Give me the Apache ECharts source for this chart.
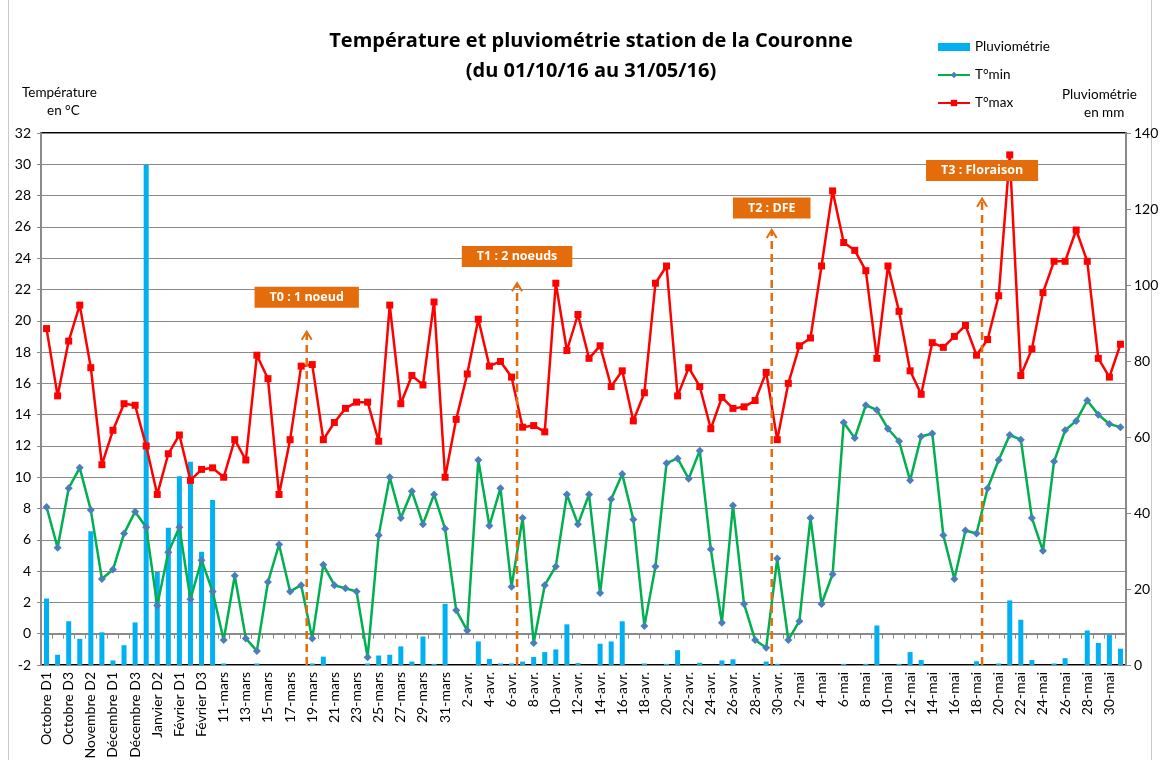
<!DOCTYPE html>
<html>
<head>
<meta charset="utf-8">
<script src="https://cdn.jsdelivr.net/npm/echarts@6/dist/echarts.min.js"></script>
<style>
html, body { margin: 0; padding: 0; background: #fff; }
#chart { width: 1163px; height: 760px; }
</style>
</head>
<body>
<div id="chart"></div>
<script>
// x categories: decades (Oct -> early March) then days
const categories = [
	'Octobre D1', 'Octobre D2', 'Octobre D3', 'Novembre D1', 'Novembre D2', 'Novembre D3',
	'Décembre D1', 'Décembre D2', 'Décembre D3', 'Janvier D1', 'Janvier D2', 'Janvier D3',
	'Février D1', 'Février D2', 'Février D3', 'Mars D1',
	'11-mars', '12-mars', '13-mars', '14-mars', '15-mars', '16-mars', '17-mars', '18-mars',
	'19-mars', '20-mars', '21-mars', '22-mars', '23-mars', '24-mars', '25-mars', '26-mars',
	'27-mars', '28-mars', '29-mars', '30-mars', '31-mars',
	'1-avr.', '2-avr.', '3-avr.', '4-avr.', '5-avr.', '6-avr.', '7-avr.', '8-avr.', '9-avr.',
	'10-avr.', '11-avr.', '12-avr.', '13-avr.', '14-avr.', '15-avr.', '16-avr.', '17-avr.',
	'18-avr.', '19-avr.', '20-avr.', '21-avr.', '22-avr.', '23-avr.', '24-avr.', '25-avr.',
	'26-avr.', '27-avr.', '28-avr.', '29-avr.', '30-avr.',
	'1-mai', '2-mai', '3-mai', '4-mai', '5-mai', '6-mai', '7-mai', '8-mai', '9-mai', '10-mai',
	'11-mai', '12-mai', '13-mai', '14-mai', '15-mai', '16-mai', '17-mai', '18-mai', '19-mai',
	'20-mai', '21-mai', '22-mai', '23-mai', '24-mai', '25-mai', '26-mai', '27-mai', '28-mai',
	'29-mai', '30-mai', '31-mai'
]

// Pluviométrie (mm, right axis)
const pluvio = [
	17.5, 2.7, 11.5, 6.9, 35.2, 8.6, 1.2, 5.2, 11.2, 131.6,
	24.5, 36.1, 49.7, 53.5, 29.8, 43.4, 0.4, 0, 0, 0.4,
	0, 0, 0, 0, 0.4, 2.2, 0, 0, 0, 0.4,
	2.5, 2.7, 4.9, 0.9, 7.5, 0.3, 16.1, 0, 0, 6.2,
	1.6, 0.4, 0.4, 0.9, 2.1, 3.4, 4.1, 10.7, 0.5, 0,
	5.6, 6.2, 11.5, 0, 0.4, 0, 0.3, 3.9, 0, 0.6,
	0, 1.2, 1.5, 0, 0, 0.9, 0.3, 0, 0, 0,
	0, 0, 0.3, 0, 0.3, 10.4, 0, 0.3, 3.4, 1.3,
	0, 0, 0, 0, 1.0, 0, 0.4, 17.0, 11.9, 1.3,
	0, 0.4, 1.8, 0, 9.1, 5.8, 8.0, 4.3
]

// T°min (°C)
const tMin = [
	8.1, 5.5, 9.3, 10.6, 7.9, 3.5, 4.1, 6.4, 7.8, 6.8,
	1.8, 5.2, 6.8, 2.2, 4.7, 2.7, -0.4, 3.7, -0.3, -1.1,
	3.3, 5.7, 2.7, 3.1, -0.3, 4.4, 3.1, 2.9, 2.7, -1.5,
	6.3, 10.0, 7.4, 9.1, 7.0, 8.9, 6.7, 1.5, 0.2, 11.1,
	6.9, 9.3, 3.0, 7.4, -0.6, 3.1, 4.3, 8.9, 7.0, 8.9,
	2.6, 8.6, 10.2, 7.3, 0.5, 4.3, 10.9, 11.2, 9.9, 11.7,
	5.4, 0.7, 8.2, 1.9, -0.4, -0.9, 4.8, -0.4, 0.8, 7.4,
	1.9, 3.8, 13.5, 12.5, 14.6, 14.3, 13.1, 12.3, 9.8, 12.6,
	12.8, 6.3, 3.5, 6.6, 6.4, 9.3, 11.1, 12.7, 12.4, 7.4,
	5.3, 11.0, 13.0, 13.6, 14.9, 14.0, 13.4, 13.2
]

// T°max (°C)
const tMax = [
	19.5, 15.2, 18.7, 21.0, 17.0, 10.8, 13.0, 14.7, 14.6, 12.0,
	8.9, 11.5, 12.7, 9.8, 10.5, 10.6, 10.0, 12.4, 11.1, 17.8,
	16.3, 8.9, 12.4, 17.1, 17.2, 12.4, 13.5, 14.4, 14.8, 14.8,
	12.3, 21.0, 14.7, 16.5, 15.9, 21.2, 10.0, 13.7, 16.6, 20.1,
	17.1, 17.4, 16.4, 13.2, 13.3, 12.9, 22.4, 18.1, 20.4, 17.6,
	18.4, 15.8, 16.8, 13.6, 15.4, 22.4, 23.5, 15.2, 17.0, 15.8,
	13.1, 15.1, 14.4, 14.5, 14.9, 16.7, 12.4, 16.0, 18.4, 18.9,
	23.5, 28.3, 25.0, 24.5, 23.2, 17.6, 23.5, 20.6, 16.8, 15.3,
	18.6, 18.3, 19.0, 19.7, 17.8, 18.8, 21.6, 30.6, 16.5, 18.2,
	21.8, 23.8, 23.8, 25.8, 23.8, 17.6, 16.4, 18.5
]

// stades : libellé, première date du stade (la flèche est au début de cette catégorie), hauteur de flèche / étiquette en °C
const stageLabels = ['T0 : 1 noeud', 'T1 : 2 noeuds', 'T2 : DFE', 'T3 : Floraison']
const stageDates = ['19-mars', '7-avr.', '30-avr.', '19-mai']
const stageArrowTop = [19.3, 22.4, 25.8, 27.8]
const stageBoxLevel = [21.5, 24.1, 27.2, 29.6]

const FONT = 'Lato, "Open Sans", sans-serif'
const TITLE_FONT = '"Open Sans", Lato, sans-serif'
const ORANGE = '#E46C0A'
const GRID_GREY = '#8a8a8a'

const chart = echarts.init(document.getElementById('chart'))

const option = {
	animation: false,
	backgroundColor: '#fff',
	textStyle: { fontFamily: FONT },
	title: {
		text: 'Température et pluviométrie station de la Couronne\n(du 01/10/16 au 31/05/16)',
		left: 586,
		top: 21,
		textAlign: 'center',
		textStyle: { fontFamily: TITLE_FONT, fontSize: 20, fontWeight: 'bold', color: '#000', lineHeight: 30 }
	},
	legend: {
		orient: 'vertical',
		left: 932,
		top: 35,
		itemWidth: 32,
		itemHeight: 8,
		itemGap: 14,
		textStyle: { fontFamily: FONT, fontSize: 13.5, color: '#000' },
		data: [
			{ name: 'Pluviométrie', icon: 'rect' },
			{ name: 'T°min' },
			{ name: 'T°max' }
		]
	},
	grid: {
		left: 41,
		right: 37,
		top: 133,
		bottom: 95,
		outerBoundsMode: 'none',
		show: true,
		borderColor: '#000',
		borderWidth: 2
	},
	xAxis: {
		type: 'category',
		data: categories,
		boundaryGap: true,
		axisLine: { lineStyle: { color: GRID_GREY, width: 2 } },
		axisTick: { show: true, interval: 0, length: 5, lineStyle: { color: GRID_GREY } },
		axisLabel: {
			interval: 1,
			rotate: 90,
			fontFamily: FONT,
			fontSize: 14,
			color: '#000',
			margin: 7
		}
	},
	yAxis: [
		{
			type: 'value',
			min: -2,
			max: 32,
			interval: 2,
			axisLine: { show: true, lineStyle: { color: GRID_GREY, width: 2 } },
			axisTick: { show: true, length: 4, lineStyle: { color: GRID_GREY } },
			axisLabel: { fontFamily: FONT, fontSize: 14, color: '#000', margin: 10 },
			splitLine: { lineStyle: { color: GRID_GREY, width: 1.2 } }
		},
		{
			type: 'value',
			min: 0,
			max: 140,
			interval: 20,
			position: 'right',
			axisLine: { show: true, lineStyle: { color: GRID_GREY, width: 2 } },
			axisTick: { show: true, length: 5, lineStyle: { color: GRID_GREY } },
			axisLabel: { fontFamily: FONT, fontSize: 14, color: '#000', margin: 8 },
			splitLine: { show: false }
		}
	],
	series: [
		{
			name: 'Pluviométrie',
			type: 'bar',
			yAxisIndex: 1,
			data: pluvio,
			barWidth: 5,
			itemStyle: { color: '#00B0F0' },
			z: 1
		},
		{
			name: 'T°min',
			type: 'line',
			data: tMin,
			symbol: 'diamond',
			symbolSize: 8,
			showAllSymbol: true,
			itemStyle: { color: '#4A7EBB' },
			lineStyle: { color: '#00B050', width: 2.5 },
			z: 3
		},
		{
			name: 'T°max',
			type: 'line',
			data: tMax,
			symbol: 'rect',
			symbolSize: 7,
			showAllSymbol: true,
			itemStyle: { color: '#FF0000' },
			lineStyle: { color: '#FF0000', width: 2.5 },
			z: 4
		}
	]
}

chart.setOption(option)

// Annotations: frame, axis titles, dashed arrows and stage boxes, placed via the chart's own scales
const graphics = [
	{ type: 'rect', shape: { x: 8.5, y: -5, width: 1143, height: 780 }, style: { stroke: '#c8c8c8', lineWidth: 1, fill: null }, silent: true },
	{ type: 'text', left: 22, top: 86, style: { text: 'Température', font: '13.5px ' + FONT, fill: '#000' } },
	{ type: 'text', left: 47, top: 104, style: { text: 'en °C', font: '13.5px ' + FONT, fill: '#000' } },
	{ type: 'text', left: 1062, top: 88, style: { text: 'Pluviométrie', font: '13.5px ' + FONT, fill: '#000' } },
	{ type: 'text', left: 1084, top: 106, style: { text: 'en mm', font: '13.5px ' + FONT, fill: '#000' } }
]

const yBottom = chart.convertToPixel({ yAxisIndex: 0 }, -2)
stageLabels.forEach((label, i) => {
	const k = categories.indexOf(stageDates[i])
	const x = (chart.convertToPixel({ xAxisIndex: 0 }, k - 1) + chart.convertToPixel({ xAxisIndex: 0 }, k)) / 2
	const yTip = chart.convertToPixel({ yAxisIndex: 0 }, stageArrowTop[i])
	const yBox = chart.convertToPixel({ yAxisIndex: 0 }, stageBoxLevel[i])
	graphics.push({
		type: 'line',
		shape: { x1: x, y1: yBottom, x2: x, y2: yTip + 2 },
		style: { stroke: ORANGE, lineWidth: 2.5, lineDash: [8, 5] },
		z: 10
	})
	graphics.push({
		type: 'polyline',
		shape: { points: [[x - 5, yTip + 8], [x, yTip], [x + 5, yTip + 8]] },
		style: { stroke: ORANGE, lineWidth: 2, fill: null },
		z: 10
	})
	graphics.push({
		type: 'text',
		x: x,
		y: yBox,
		style: {
			text: label,
			font: 'bold 12.5px ' + TITLE_FONT,
			fill: '#fff',
			align: 'center',
			verticalAlign: 'middle',
			backgroundColor: ORANGE,
			padding: [4, 15, 4, 15]
		},
		z: 11
	})
})

chart.setOption({ graphic: graphics })
</script>
</body>
</html>
